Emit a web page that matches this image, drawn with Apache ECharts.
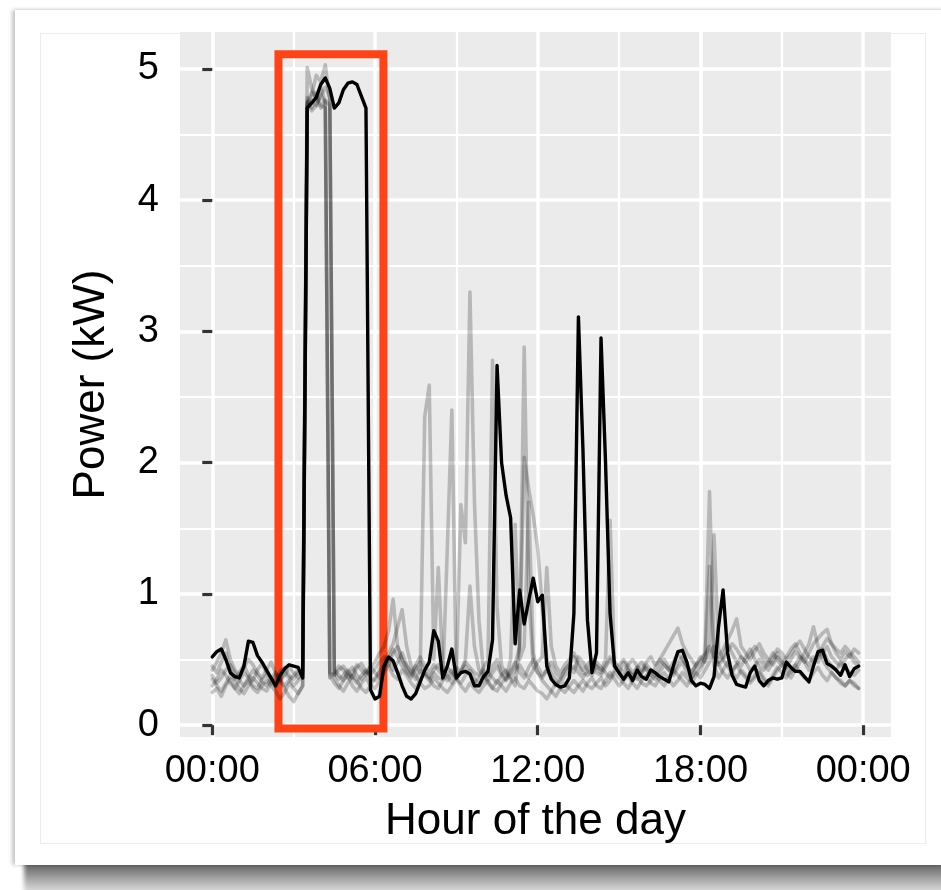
<!DOCTYPE html>
<html>
<head>
<meta charset="utf-8">
<script src="https://cdn.jsdelivr.net/npm/echarts@6/dist/echarts.min.js"></script>
<style>
  html, body { margin: 0; padding: 0; background: #ffffff; }
  #wrap { position: relative; width: 941px; height: 890px; overflow: hidden; background: #fff; }
  .shadow { position: absolute; left: 24px; top: 860px; width: 930px; height: 34px;
            background: linear-gradient(to bottom, #555555 0%, #7e7e7e 30%, #b4b4b4 65%, #e6e6e6 100%);
            filter: blur(2px); }
  .card { position: absolute; left: 15px; top: 10px; width: 930px; height: 855px; background: #fff;
          box-shadow: -3px 0 4px rgba(0,0,0,0.22), 0 -1px 3px rgba(0,0,0,0.05); }
  .inner { position: absolute; left: 40px; top: 33px; width: 884px; height: 809px; border: 1px solid #ececec; }
  #chart { position: absolute; left: 0; top: 0; width: 941px; height: 890px; }
</style>
</head>
<body>
<div id="wrap">
  <div class="shadow"></div>
  <div class="card"></div>
  <div class="inner"></div>
  <div id="chart"></div>
</div>
<script>
// ---- data (10-minute readings, kW) ----
const stepsPerHour = 6;
const xTickValues = [0, 6, 12, 18, 24];
const xTickLabels = ['00:00', '06:00', '12:00', '18:00', '00:00'];
const xMinorValues = [3, 9, 15, 21];
const yTickValues = [0, 1, 2, 3, 4, 5];
const yMinorValues = [0.5, 1.5, 2.5, 3.5, 4.5];

const highlightX = [2.44, 6.31];
const highlightY = [-0.025, 5.11];

const selectedDay = [
  0.52,0.56,0.58,0.50,0.40,0.37,0.36,0.45,0.64,0.63,0.53,0.48,
  0.42,0.36,0.30,0.38,0.43,0.46,0.45,0.44,0.36,4.70,4.74,4.78,
  4.88,4.93,4.85,4.70,4.74,4.84,4.89,4.90,4.88,4.79,4.70,0.27,
  0.20,0.22,0.45,0.52,0.49,0.40,0.30,0.22,0.20,0.24,0.33,0.42,
  0.48,0.72,0.64,0.36,0.45,0.58,0.36,0.40,0.41,0.39,0.30,0.30,
  0.37,0.41,0.65,2.74,2.00,1.75,1.58,0.62,1.03,0.77,0.95,1.12,
  0.94,0.99,0.45,0.35,0.31,0.29,0.30,0.36,0.85,3.11,2.10,0.80,
  0.40,0.55,2.95,2.00,0.85,0.45,0.40,0.35,0.40,0.34,0.42,0.37,
  0.35,0.42,0.40,0.37,0.35,0.33,0.45,0.56,0.57,0.48,0.34,0.30,
  0.32,0.31,0.28,0.37,0.75,1.03,0.55,0.38,0.31,0.30,0.29,0.40,
  0.45,0.34,0.30,0.34,0.36,0.35,0.36,0.48,0.44,0.41,0.41,0.37,
  0.33,0.45,0.56,0.57,0.47,0.45,0.42,0.38,0.46,0.37,0.43,0.45
];

const otherDay1 = [
  0.45,0.40,0.48,0.55,0.42,0.35,0.40,0.46,0.38,0.34,0.42,0.47,
  0.40,0.36,0.33,0.41,0.44,0.38,0.35,0.40,0.42,5.01,4.85,4.78,
  4.86,4.75,0.40,0.38,0.42,0.45,0.40,0.36,0.44,0.47,0.41,0.38,
  0.43,0.48,0.52,0.45,0.55,0.60,0.50,0.42,0.38,0.45,0.40,2.35,
  2.59,0.50,1.20,0.45,0.38,0.42,0.35,0.40,0.45,0.38,0.32,0.36,
  0.42,0.38,0.45,0.50,0.40,0.35,0.42,0.48,0.40,0.36,0.44,0.50,
  0.45,0.38,0.42,0.36,0.30,0.35,0.42,0.46,0.40,0.52,0.48,0.42,
  0.38,0.45,0.42,0.50,1.56,0.45,0.40,0.48,0.42,0.36,0.44,0.40,
  0.46,0.42,0.38,0.45,0.50,0.44,0.40,0.48,0.52,0.45,0.40,0.46,
  0.50,0.55,1.78,0.60,0.48,0.52,0.62,0.55,0.48,0.45,0.52,0.58,
  0.50,0.45,0.42,0.48,0.55,0.50,0.45,0.52,0.58,0.62,0.55,0.50,
  0.46,0.52,0.48,0.55,0.60,0.52,0.48,0.45,0.50,0.54,0.48,0.45
];

const otherDay2 = [
  0.30,0.35,0.42,0.38,0.32,0.28,0.34,0.40,0.36,0.30,0.28,0.35,
  0.38,0.33,0.29,0.35,0.40,0.36,0.30,0.34,0.38,4.72,4.80,4.95,
  4.90,5.03,4.75,0.40,0.35,0.38,0.42,0.36,0.32,0.38,0.42,0.36,
  0.34,0.40,0.45,0.50,0.42,0.48,0.55,0.46,0.40,0.35,0.42,0.38,
  0.34,0.40,0.36,0.35,1.35,2.40,0.35,0.32,0.38,0.42,0.36,0.30,
  0.34,0.40,0.36,0.32,0.38,0.42,0.35,0.30,0.60,2.04,1.80,1.60,
  1.34,0.90,0.50,0.40,0.35,0.32,0.38,0.42,0.45,0.40,0.36,0.42,
  0.46,0.40,0.38,0.44,0.50,0.45,0.40,0.36,0.42,0.38,0.35,0.40,
  0.44,0.38,0.35,0.40,0.46,0.42,0.38,0.44,0.48,0.40,0.36,0.42,
  0.45,0.50,0.62,1.45,0.58,0.50,0.45,0.40,0.46,0.52,0.48,0.42,
  0.45,0.50,0.46,0.42,0.48,0.55,0.50,0.44,0.40,0.46,0.52,0.48,
  0.42,0.46,0.52,0.58,0.50,0.45,0.42,0.48,0.44,0.40,0.38,0.42
];

const otherDay3 = [
  0.25,0.28,0.22,0.30,0.35,0.28,0.24,0.30,0.34,0.28,0.25,0.30,
  0.34,0.30,0.26,0.20,0.25,0.32,0.28,0.24,0.30,4.78,4.70,4.82,
  4.72,4.70,0.38,0.32,0.28,0.34,0.38,0.30,0.26,0.32,0.36,0.30,
  0.28,0.34,0.40,0.45,0.38,0.35,0.42,0.38,0.32,0.28,0.35,0.40,
  0.36,0.30,0.28,0.34,0.38,0.32,0.40,1.68,1.39,3.30,1.70,0.80,
  0.40,0.32,0.28,0.34,0.30,0.26,0.32,0.36,0.30,0.28,0.34,0.30,
  0.26,0.24,0.20,0.26,0.32,0.28,0.25,0.30,0.34,0.30,0.26,0.32,
  0.36,0.30,0.28,0.34,0.40,0.35,0.30,0.34,0.38,0.32,0.28,0.34,
  0.38,0.32,0.30,0.36,0.40,0.35,0.30,0.34,0.40,0.36,0.32,0.38,
  0.42,0.50,1.21,0.45,0.36,0.42,0.48,0.40,0.36,0.42,0.38,0.34,
  0.38,0.42,0.36,0.32,0.38,0.44,0.40,0.36,0.42,0.46,0.40,0.36,
  0.34,0.40,0.44,0.38,0.34,0.40,0.36,0.32,0.30,0.34,0.30,0.28
];

const otherDay4 = [
  0.38,0.32,0.36,0.42,0.46,0.40,0.34,0.30,0.36,0.42,0.38,0.33,
  0.30,0.36,0.40,0.35,0.30,0.34,0.38,0.42,0.36,4.75,4.68,4.72,
  4.80,4.86,4.78,0.42,0.38,0.34,0.40,0.44,0.38,0.35,0.40,0.45,
  0.40,0.36,0.42,0.50,0.58,0.52,0.45,0.40,0.36,0.42,0.48,0.40,
  0.36,0.42,0.46,0.40,0.34,0.38,0.44,0.40,0.50,1.06,0.60,0.42,
  0.38,0.34,0.40,0.45,0.38,0.34,0.40,0.46,0.60,2.88,1.00,0.45,
  0.40,0.36,0.42,0.48,0.40,0.36,0.42,0.46,0.52,0.45,0.40,0.38,
  0.42,0.48,0.44,0.40,0.36,0.42,0.46,0.50,0.45,0.40,0.44,0.48,
  0.42,0.38,0.44,0.50,0.46,0.42,0.48,0.55,0.50,0.45,0.40,0.46,
  0.52,0.48,0.55,0.60,0.52,0.58,0.65,0.72,0.81,0.60,0.55,0.50,
  0.56,0.62,0.55,0.50,0.46,0.52,0.48,0.44,0.50,0.56,0.52,0.48,
  0.55,0.62,0.66,0.70,0.73,0.62,0.55,0.50,0.56,0.52,0.58,0.55
];

const otherDay5 = [
  0.42,0.48,0.55,0.65,0.50,0.42,0.38,0.44,0.50,0.46,0.40,0.36,
  0.42,0.48,0.40,0.34,0.38,0.44,0.40,0.36,0.40,4.70,4.76,4.72,
  4.80,4.74,0.36,0.40,0.45,0.42,0.36,0.40,0.46,0.42,0.38,0.44,
  0.48,0.55,0.60,0.72,0.96,0.60,0.50,0.45,0.40,0.46,0.52,0.45,
  0.40,0.46,0.42,0.38,0.44,0.40,0.36,0.42,0.48,0.44,0.40,0.38,
  0.44,0.50,2.78,0.90,0.45,0.40,0.36,0.42,0.46,0.40,0.36,0.42,
  0.48,0.52,1.20,0.60,0.45,0.40,0.46,0.50,0.55,0.48,0.42,0.46,
  0.50,0.45,0.40,0.46,0.52,0.48,0.44,0.40,0.46,0.50,0.45,0.42,
  0.48,0.52,0.46,0.50,0.56,0.62,0.68,0.74,0.62,0.55,0.50,0.45,
  0.48,0.54,0.60,0.52,0.46,0.50,0.56,0.62,0.58,0.52,0.48,0.54,
  0.60,0.56,0.50,0.46,0.52,0.58,0.55,0.50,0.54,0.60,0.64,0.58,
  0.52,0.48,0.54,0.60,0.66,0.62,0.58,0.55,0.60,0.56,0.52,0.48
];

const otherDay6 = [
  0.35,0.30,0.26,0.32,0.38,0.34,0.28,0.24,0.30,0.36,0.32,0.28,
  0.26,0.32,0.38,0.34,0.28,0.22,0.18,0.24,0.30,4.74,4.82,4.78,
  4.70,4.76,4.72,0.36,0.30,0.26,0.32,0.38,0.34,0.28,0.25,0.30,
  0.36,0.42,0.48,0.55,0.62,0.75,0.88,0.60,0.45,0.38,0.32,0.28,
  0.30,0.36,0.32,0.28,0.25,0.30,0.35,0.30,0.26,0.32,0.28,0.25,
  0.30,0.34,0.28,0.26,0.32,0.36,0.50,1.53,0.50,0.60,1.70,0.55,
  0.40,0.34,0.30,0.26,0.22,0.28,0.32,0.28,0.25,0.30,0.34,0.30,
  0.28,0.32,0.36,0.30,0.34,0.40,0.36,0.32,0.28,0.34,0.38,0.32,
  0.30,0.34,0.38,0.34,0.30,0.36,0.42,0.38,0.34,0.30,0.36,0.40,
  0.36,0.42,0.48,0.55,0.46,0.40,0.36,0.42,0.46,0.40,0.36,0.32,
  0.36,0.40,0.34,0.30,0.36,0.42,0.46,0.40,0.36,0.42,0.48,0.55,
  0.62,0.75,0.60,0.50,0.44,0.40,0.36,0.34,0.30,0.34,0.32,0.28
];

const otherDays = [otherDay1, otherDay2, otherDay3, otherDay4, otherDay5, otherDay6];

// ---- build ----
const pairs = arr => arr.map((v, i) => [i / stepsPerHour, v]);
const FONT = '"Liberation Sans", Arial, Helvetica, sans-serif';
const xMin = -1.19, xMax = 25.025, yMin = -0.09, yMax = 5.28;

const series = otherDays.map(d => ({
  type: 'line', data: pairs(d), showSymbol: false, silent: true, z: 3,
  lineStyle: { color: 'rgba(0,0,0,0.22)', width: 3.6, join: 'round', cap: 'round' }
}));
series.push({
  type: 'line', data: pairs(selectedDay), showSymbol: false, silent: true, z: 5,
  lineStyle: { color: '#000000', width: 3.4, join: 'round', cap: 'round' }
});
series.push({
  type: 'line', data: [], z: 10, silent: true,
  markArea: {
    silent: true,
    itemStyle: { color: 'rgba(0,0,0,0)', borderColor: '#FF4316', borderWidth: 8 },
    data: [[{ coord: [highlightX[0], highlightY[0]] }, { coord: [highlightX[1], highlightY[1]] }]]
  }
});

const chart = echarts.init(document.getElementById('chart'), null, { renderer: 'canvas' });
chart.setOption({
  backgroundColor: 'transparent',
  animation: false,
  grid: { left: 180, top: 32, width: 711, height: 705, show: true, backgroundColor: '#EBEBEB', borderWidth: 0 },
  xAxis: [{
    type: 'value', min: xMin, max: xMax,
    axisLine: { show: false },
    axisTick: { show: true, length: 10, customValues: xTickValues, lineStyle: { color: '#333333', width: 3.2 } },
    axisLabel: { customValues: xTickValues, margin: 16, color: '#000', fontSize: 38, fontFamily: FONT,
      formatter: v => xTickLabels[xTickValues.indexOf(v)] },
    splitLine: { show: true, lineStyle: { color: '#FFFFFF', width: 3.5 } },
    name: 'Hour of the day', nameLocation: 'middle', nameGap: 63,
    nameTextStyle: { color: '#000', fontSize: 44, fontFamily: FONT }
  }, {
    type: 'value', min: xMin, max: xMax, position: 'bottom',
    axisLine: { show: false },
    axisTick: { show: false, customValues: xMinorValues },
    axisLabel: { show: false, customValues: xMinorValues },
    splitLine: { show: true, lineStyle: { color: '#FFFFFF', width: 2.2 } }
  }],
  yAxis: [{
    type: 'value', min: yMin, max: yMax,
    axisLine: { show: false },
    axisTick: { show: true, length: 10, customValues: yTickValues, lineStyle: { color: '#333333', width: 3.2 } },
    axisLabel: { customValues: yTickValues, margin: 21, color: '#000', fontSize: 38, fontFamily: FONT },
    splitLine: { show: true, lineStyle: { color: '#FFFFFF', width: 3.5 } },
    name: 'Power (kW)', nameLocation: 'middle', nameGap: 66,
    nameTextStyle: { color: '#000', fontSize: 44, fontFamily: FONT }
  }, {
    type: 'value', min: yMin, max: yMax, position: 'left',
    axisLine: { show: false },
    axisTick: { show: false, customValues: yMinorValues },
    axisLabel: { show: false, customValues: yMinorValues },
    splitLine: { show: true, lineStyle: { color: '#FFFFFF', width: 2.2 } }
  }],
  series: series
});
</script>
</body>
</html>
